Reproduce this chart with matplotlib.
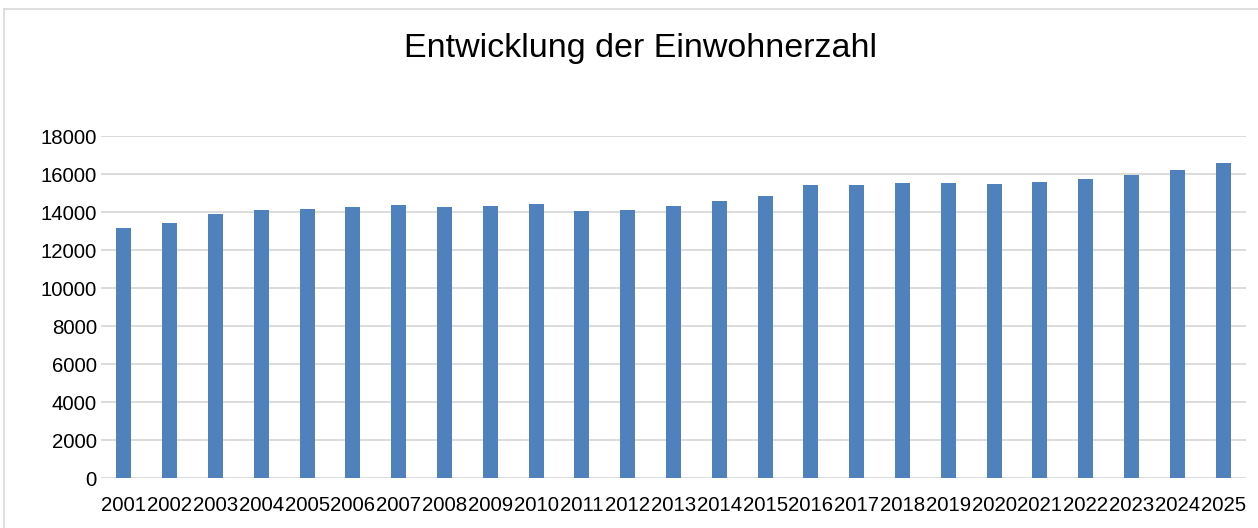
import matplotlib.pyplot as plt
from matplotlib.lines import Line2D

# Daten
jahre = [str(j) for j in range(2001, 2026)]
einwohner = [13160, 13440, 13880, 14100, 14140, 14260, 14350, 14260, 14320, 14400,
             14040, 14100, 14310, 14600, 14840, 15440, 15420, 15530, 15540, 15470,
             15580, 15720, 15950, 16230, 16560]
y_ticks = list(range(0, 18001, 2000))

plt.rcParams['font.family'] = ['Liberation Sans', 'DejaVu Sans']

fig = plt.figure(figsize=(12.58, 5.28), dpi=100)
ax = fig.add_axes([101 / 1258, 50 / 528, 1145 / 1258, 342 / 528])

ax.bar(jahre, einwohner, width=0.33, color='#4f81bd', zorder=3)
ax.set_xlim(-0.5, len(jahre) - 0.5)
ax.set_ylim(0, 18000)
ax.set_yticks(y_ticks)
ax.set_yticklabels([str(v) for v in y_ticks])
ax.grid(axis='y', color='#d9d9d9', linewidth=1.3, zorder=0)
ax.tick_params(axis='both', length=0, labelsize=14.7, colors='black')
ax.tick_params(axis='x', pad=13)
ax.tick_params(axis='y', pad=3)
for s in ax.spines.values():
    s.set_visible(False)

fig.text(641 / 1258, 1 - 49 / 528, 'Entwicklung der Einwohnerzahl',
         ha='center', va='center', fontsize=24.5)

# Rahmen des Diagramms (rechts und unten abgeschnitten)
fig.add_artist(Line2D([4 / 1258, 4 / 1258], [0, 1 - 9 / 528], color='#d9d9d9', lw=1.2))
fig.add_artist(Line2D([4 / 1258, 1], [1 - 9 / 528, 1 - 9 / 528], color='#d9d9d9', lw=1.2))

fig.savefig('out.png', dpi=100)
